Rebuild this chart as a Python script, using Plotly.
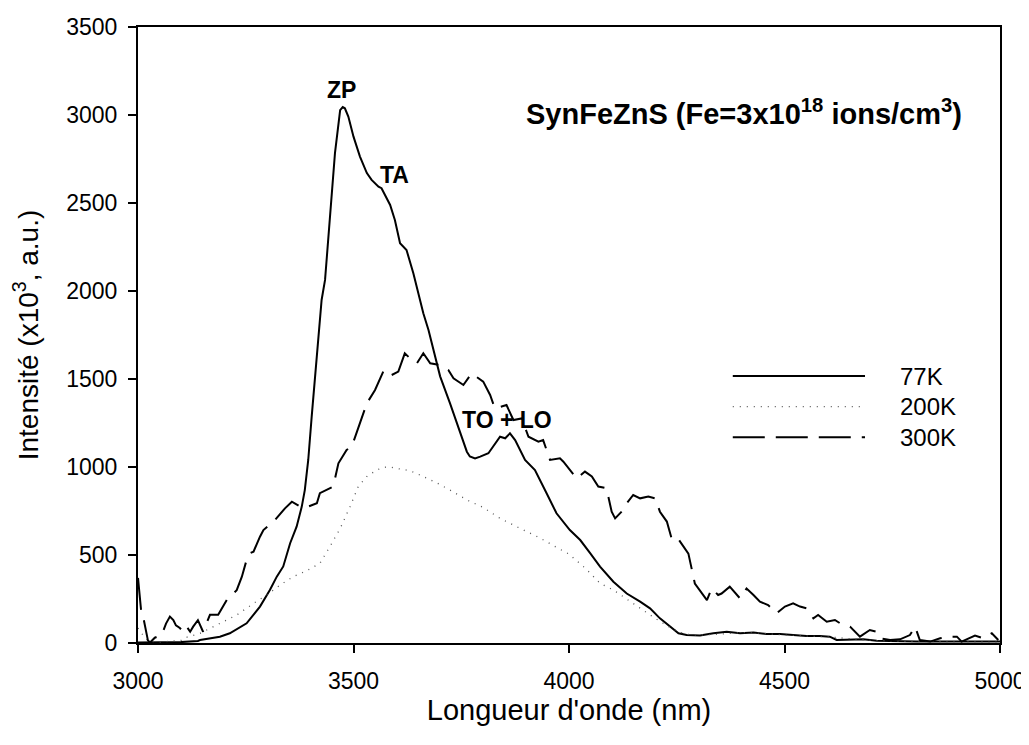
import plotly.graph_objects as go

# ---------------- data ----------------
x77 = [3000, 3050, 3100, 3139, 3144, 3190, 3213, 3252, 3283, 3306, 3322, 3337, 3353, 3368, 3380,
       3387, 3395, 3403, 3411, 3418, 3426, 3434, 3445, 3457, 3469, 3475, 3480, 3488, 3500, 3515,
       3531, 3542, 3558, 3565, 3585, 3596, 3608, 3623, 3639, 3650, 3662, 3674, 3685, 3701, 3724,
       3747, 3763, 3770, 3782, 3794, 3813, 3840, 3852, 3863, 3875, 3898, 3921, 3948, 3971, 4002,
       4026, 4049, 4072, 4103, 4134, 4165, 4188, 4211, 4234, 4254, 4273, 4304, 4335, 4366, 4397,
       4428, 4458, 4490, 4520, 4551, 4582, 4605, 4621, 4652, 4683, 4714, 4745, 4768, 4806, 4845,
       4923, 5000]
y77 = [3, 2, 5, 12, 17, 36, 55, 112, 207, 301, 377, 435, 567, 661, 775,
       869, 1040, 1286, 1513, 1759, 1949, 2063, 2385, 2783, 3028, 3045, 3038, 2991, 2877, 2764,
       2670, 2631, 2593, 2584, 2489, 2403, 2271, 2233, 2100, 1987, 1873, 1778, 1665, 1515, 1362,
       1200, 1087, 1060, 1049, 1059, 1078, 1172, 1163, 1191, 1153, 1040, 983, 851, 737, 642,
       585, 511, 434, 348, 281, 235, 197, 140, 93, 55, 45, 42, 55, 64, 55,
       59, 51, 51, 45, 40, 40, 36, 17, 21, 21, 13, 13, 9, 9, 8,
       8, 8]

x200 = [3000, 3010, 3025, 3050, 3100, 3105, 3144, 3190, 3229, 3268, 3299, 3330, 3360, 3391, 3422,
        3445, 3469, 3492, 3511, 3531, 3554, 3569, 3585, 3600, 3631, 3662, 3693, 3724, 3763, 3801,
        3840, 3886, 3930, 3970, 4000, 4040, 4072, 4103, 4126, 4165, 4200, 4240, 4270, 4300, 4350,
        4400, 4450, 4500, 4550, 4600, 4650, 4700, 4800, 4900, 5000]
y200 = [85, 50, 10, 5, 15, 27, 55, 112, 159, 225, 273, 330, 377, 410, 452,
        547, 650, 775, 889, 946, 983, 998, 1000, 992, 979, 946, 910, 869, 813, 770,
        708, 652, 600, 545, 505, 420, 339, 301, 263, 200, 140, 80, 50, 45, 50,
        60, 55, 45, 40, 35, 25, 15, 8, 5, 5]

x300 = [3000, 3007, 3014, 3023, 3028, 3039, 3055, 3065, 3074, 3082, 3088, 3097, 3105, 3113, 3121,
        3128, 3139, 3151, 3167, 3186, 3206, 3229, 3241, 3252, 3260, 3268, 3283, 3291, 3318, 3341,
        3357, 3376, 3391, 3415, 3422, 3453, 3465, 3484, 3496, 3507, 3531, 3550, 3558, 3569, 3581,
        3604, 3619, 3631, 3647, 3662, 3678, 3701, 3720, 3732, 3755, 3774, 3801, 3817, 3828, 3855,
        3871, 3890, 3906, 3929, 3940, 3956, 3979, 3987, 4018, 4037, 4053, 4068, 4087, 4099, 4107,
        4126, 4134, 4149, 4165, 4184, 4200, 4211, 4227, 4238, 4250, 4258, 4277, 4292, 4308, 4320,
        4331, 4346, 4354, 4373, 4397, 4412, 4428, 4443, 4462, 4482, 4501, 4520, 4536, 4551, 4567,
        4578, 4598, 4617, 4629, 4652, 4675, 4698, 4714, 4722, 4745, 4768, 4791, 4803, 4814, 4838,
        4861, 4884, 4900, 4911, 4942, 4961, 4981, 4996]
y300 = [370, 190, 125, 15, 3, 30, 45, 110, 150, 130, 100, 85, 64, 93, 64,
        93, 130, 64, 160, 160, 245, 300, 377, 472, 510, 519, 604, 642, 699, 765,
        803, 775, 771, 794, 851, 889, 1021, 1097, 1116, 1191, 1362, 1438, 1485, 1542, 1513,
        1542, 1646, 1618, 1589, 1646, 1589, 1580, 1551, 1504, 1466, 1532, 1485, 1409, 1333, 1352,
        1267, 1276, 1172, 1144, 1153, 1040, 1049, 1030, 935, 974, 946, 889, 879, 746, 708,
        756, 794, 841, 822, 832, 822, 746, 690, 595, 604, 576, 508, 338, 281, 244,
        310, 273, 281, 320, 253, 310, 273, 235, 216, 169, 207, 225, 207, 197, 140,
        159, 121, 131, 112, 93, 36, 74, 64, 27, 17, 21, 45, 93, 17, 8,
        27, 36, 36, 8, 42, 27, 55, 17]

x_ticks = [3000, 3500, 4000, 4500, 5000]
y_ticks = [0, 500, 1000, 1500, 2000, 2500, 3000, 3500]

series_names = ["77K", "200K", "300K"]
peak_labels = ["ZP", "TA", "TO + LO"]
peak_x = [3471, 3596, 3855]
peak_y = [3142, 2659, 1267]

FONT = "Arial, 'Liberation Sans', Helvetica, sans-serif"
DASH300 = "32px,11px"
DOT200 = "1px,6px"

fig = go.Figure()
fig.add_trace(go.Scatter(x=x77, y=y77, mode="lines", name=series_names[0],
                         line=dict(color="black", width=2)))
fig.add_trace(go.Scatter(x=x200, y=y200, mode="lines", name=series_names[1],
                         line=dict(color="#555555", width=1.3, dash=DOT200)))
fig.add_trace(go.Scatter(x=x300, y=y300, mode="lines", name=series_names[2],
                         line=dict(color="black", width=2, dash=DASH300)))

# peak labels
for t, px_, py_ in zip(peak_labels, peak_x, peak_y):
    fig.add_annotation(x=px_, y=py_, text="<b>%s</b>" % t, showarrow=False,
                       font=dict(family=FONT, size=23, color="black"))

# sample label
fig.add_annotation(xref="paper", yref="paper", x=0.4478, y=0.862, xanchor="left", yanchor="middle",
                   text="<b>SynFeZnS (Fe=3x10<sup>18</sup> ions/cm<sup>3</sup>)</b>",
                   showarrow=False, font=dict(family=FONT, size=29, color="black"))

# custom legend (lines + labels)
leg_y = [0.4334, 0.3836, 0.3339]
leg_dash = ["solid", DOT200, DASH300]
leg_col = ["black", "#555555", "black"]
leg_w = [2, 1.3, 2]
for name, yy, d, c, w in zip(series_names, leg_y, leg_dash, leg_col, leg_w):
    fig.add_shape(type="line", xref="paper", yref="paper", x0=0.690, x1=0.8434, y0=yy, y1=yy,
                  line=dict(color=c, width=w, dash=d))
    fig.add_annotation(xref="paper", yref="paper", x=0.8813, y=yy, xanchor="left", yanchor="middle",
                       text=name, showarrow=False, font=dict(family=FONT, size=24, color="black"))

fig.update_layout(
    width=1029, height=745,
    margin=dict(l=130, r=37, t=19, b=110),
    paper_bgcolor="white", plot_bgcolor="white",
    showlegend=False,
    font=dict(family=FONT, size=23, color="black"),
    xaxis=dict(range=[3000, 5000], tickvals=x_ticks, ticktext=[str(v) for v in x_ticks],
               automargin=False, ticklabelstandoff=8,
               showgrid=False, zeroline=False, showline=True, linecolor="black", linewidth=2,
               mirror=True, ticks="outside", ticklen=8, tickwidth=2, tickcolor="black",
               tickfont=dict(family=FONT, size=23),
               title=dict(text="Longueur d'onde (nm)", font=dict(family=FONT, size=29), standoff=0)),
    yaxis=dict(range=[0, 3500], tickvals=y_ticks, ticktext=[str(v) for v in y_ticks],
               automargin=False, ticklabelstandoff=6,
               showgrid=False, zeroline=False, showline=True, linecolor="black", linewidth=2,
               mirror=True, ticks="outside", ticklen=8, tickwidth=2, tickcolor="black",
               tickfont=dict(family=FONT, size=23),
               title=dict(text="Intensité (x10<sup>3</sup>, a.u.)", font=dict(family=FONT, size=28),
                          standoff=20)),
)

fig.write_html("out.html", config={"displayModeBar": False})
